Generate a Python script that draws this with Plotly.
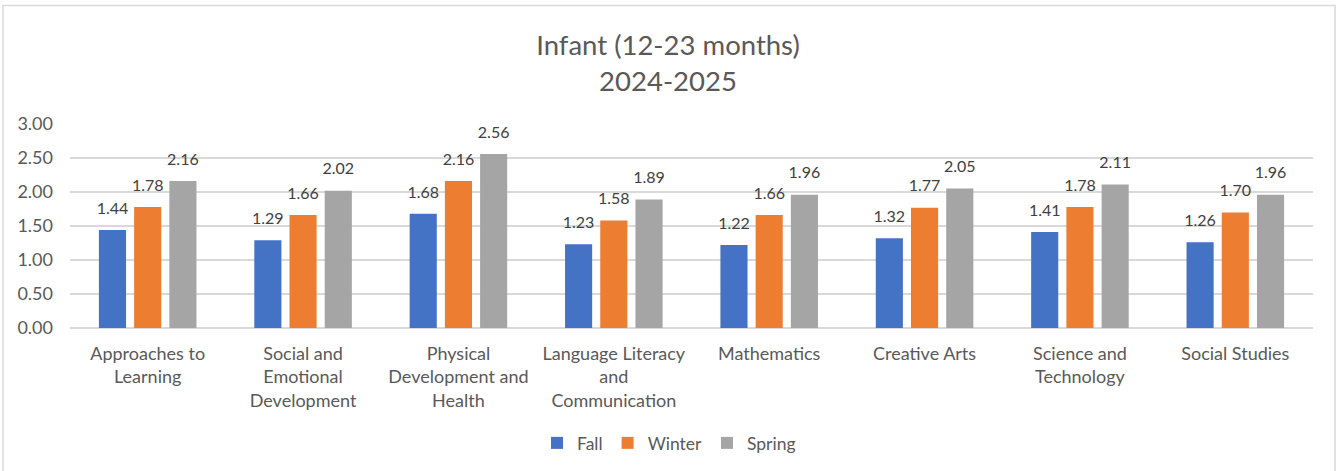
import plotly.graph_objects as go

categories = [
    "Approaches to<br>Learning",
    "Social and<br>Emotional<br>Development",
    "Physical<br>Development and<br>Health",
    "Language Literacy<br>and<br>Communication",
    "Mathematics",
    "Creative Arts",
    "Science and<br>Technology",
    "Social Studies",
]
fall = [1.44, 1.29, 1.68, 1.23, 1.22, 1.32, 1.41, 1.26]
winter = [1.78, 1.66, 2.16, 1.58, 1.66, 1.77, 1.78, 1.70]
spring = [2.16, 2.02, 2.56, 1.89, 1.96, 2.05, 2.11, 1.96]
series_names = ["Fall", "Winter", "Spring"]
colors = ["#4472C4", "#ED7D31", "#A5A5A5"]
yticks = [0, 0.5, 1.0, 1.5, 2.0, 2.5, 3.0]

FONT = "Lato"
fig = go.Figure()
for name, vals, col in zip(series_names, [fall, winter, spring], colors):
    fig.add_trace(go.Bar(
        x=categories, y=vals, name=name, offsetgroup=name,
        marker=dict(color=col, line=dict(width=0)), hoverinfo="skip",
    ))
for name, vals in zip(series_names, [fall, winter, spring]):
    fig.add_trace(go.Scatter(
        x=categories, y=vals, offsetgroup=name, mode="markers+text", showlegend=False,
        marker=dict(size=18, opacity=0), cliponaxis=False, hoverinfo="skip",
        text=[f"{v:.2f}" for v in vals], textposition="top center",
        textfont=dict(family=FONT, size=16, color="#404040"),
    ))

W, H = 1336, 471
ml, mr, mt, mb = 70, 23, 124, 143
pw, ph = W - ml - mr, H - mt - mb

fig.update_layout(
    width=W, height=H,
    margin=dict(l=ml, r=mr, t=mt, b=mb, autoexpand=False),
    paper_bgcolor="white", plot_bgcolor="white",
    barmode="group", bargap=0.32, bargroupgap=0.23,
    scattermode="group", scattergap=0.32,
    title=dict(text="Infant (12-23 months)<br>2024-2025", x=0.5, xanchor="center",
               y=1 - 55 / H, yanchor="top",
               font=dict(family=FONT, size=27.5, color="#595959")),
    font=dict(family=FONT, color="#595959"),
    showlegend=True,
    legend=dict(orientation="h", x=(W / 2 + 1 - ml) / pw, xanchor="center",
                y=-(443 - 328) / ph, yanchor="middle",
                font=dict(family=FONT, size=17.5, color="#595959"), traceorder="normal"),
    xaxis=dict(showgrid=False, showline=False, ticks="", ticklabelstandoff=13,
               tickfont=dict(family=FONT, size=18, color="#595959")),
    yaxis=dict(range=[0, 3], tickvals=yticks, tickformat=".2f", showgrid=True, gridcolor="#d9d9d9",
               gridwidth=1.5, zeroline=True, zerolinecolor="#d9d9d9", zerolinewidth=1.5,
               showline=False, ticks="", ticklabelstandoff=16,
               tickfont=dict(family=FONT, size=18, color="#595959")),
    shapes=[dict(type="rect", xref="paper", yref="paper",
                 x0=(3 - ml) / pw, x1=(1335 - ml) / pw,
                 y0=-(490 - (H - mb)) / ph,
                 y1=((H - mb) - 5.5) / ph,
                 line=dict(color="#d9d9d9", width=1.5), layer="below")],
)
fig.write_html("out.html", post_script="document.body.style.margin='0';",
               config={"displayModeBar": False})
